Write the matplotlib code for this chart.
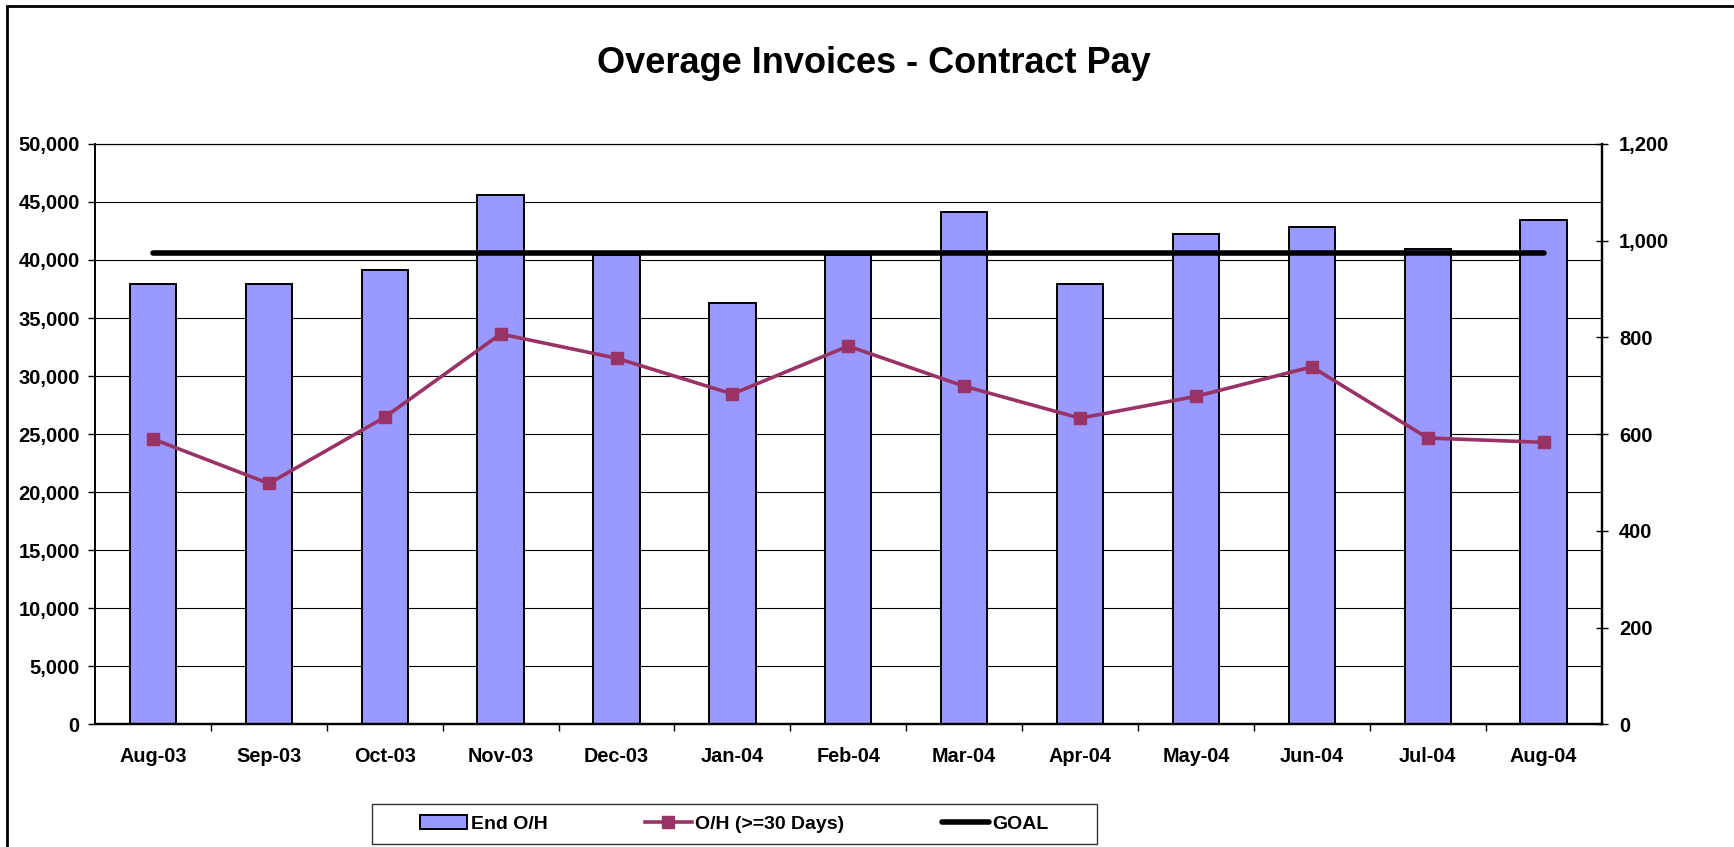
import numpy as np
import matplotlib
matplotlib.use("Agg")
import matplotlib.pyplot as plt
from matplotlib.lines import Line2D
from matplotlib.patches import Patch, Rectangle
from matplotlib.ticker import FuncFormatter, MultipleLocator

plt.rcParams['font.family'] = ['Liberation Sans', 'DejaVu Sans']
plt.rcParams['font.weight'] = 'bold'

months = ['Aug-03', 'Sep-03', 'Oct-03', 'Nov-03', 'Dec-03', 'Jan-04', 'Feb-04',
          'Mar-04', 'Apr-04', 'May-04', 'Jun-04', 'Jul-04', 'Aug-04']
end_oh = [37900, 37900, 39150, 45600, 40450, 36300, 40400,
          44100, 37950, 42250, 42800, 40900, 43400]
oh_30 = [590, 498, 635, 807, 757, 683, 782, 699, 633, 678, 739, 592, 583]
goal = [975] * 13

fig = plt.figure(figsize=(17.34, 8.47), dpi=100)
ax = fig.add_axes([0.0548, 0.1447, 0.8688, 0.6855])
ax2 = ax.twinx()

x = np.arange(len(months))
ax.bar(x, end_oh, width=0.4, color='#9999FF', edgecolor='black', linewidth=1.4, zorder=2)
ax.set_ylim(0, 50000)
ax.set_xlim(-0.5, len(months) - 0.5)
ax.yaxis.set_major_locator(MultipleLocator(5000))
ax.yaxis.set_major_formatter(FuncFormatter(lambda v, p: f'{int(v):,}'))
ax.grid(axis='y', color='black', linewidth=0.8, zorder=0)
ax.set_axisbelow(True)

ax.set_xticks(x)
ax.set_xticklabels(months)
ax.set_xticks(x[:-1] + 0.5, minor=True)
ax.tick_params(axis='x', which='major', length=0, pad=16, labelsize=14.3)
ax.tick_params(axis='x', which='minor', length=5, width=1, direction='out')
ax.tick_params(axis='y', length=5, width=1, direction='out', pad=6, labelsize=14.5)

ax2.plot(x, goal, color='black', linewidth=4, solid_capstyle='round', zorder=3)
ax2.plot(x, oh_30, color='#993366', linewidth=2.6, marker='s', markersize=8, zorder=4)
ax2.set_ylim(0, 1200)
ax2.yaxis.set_major_locator(MultipleLocator(200))
ax2.yaxis.set_major_formatter(FuncFormatter(lambda v, p: f'{int(v):,}'))
ax2.tick_params(axis='y', length=9, width=1, direction='inout', pad=8, labelsize=14.5)

for a in (ax, ax2):
    a.spines['left'].set_linewidth(1.3)
    a.spines['bottom'].set_linewidth(1.6)
    a.spines['right'].set_linewidth(1.6)
    a.spines['top'].set_linewidth(0.8)

fig.text(0.504, 0.9256, 'Overage Invoices - Contract Pay', ha='center', va='center',
         fontsize=26, fontweight='bold')

handles = [Patch(facecolor='#9999FF', edgecolor='black', linewidth=1.4),
           Line2D([], [], color='#993366', linewidth=2.6, marker='s', markersize=8),
           Line2D([], [], color='black', linewidth=4, solid_capstyle='round')]
fig.legend(handles, ['End O/H', 'O/H (>=30 Days)', 'GOAL'], ncol=3, frameon=False,
           loc='center', bbox_to_anchor=(0.4236, 0.0272), fontsize=14,
           handlelength=2.4, handletextpad=0.2, columnspacing=5.0)
fig.patches.append(Rectangle((0.2145, 0.0035), 0.4181, 0.0473, transform=fig.transFigure,
                             fill=False, edgecolor='#333333', linewidth=1.0))

# outer chart border (runs off the right and bottom edge)
fig.patches.append(Rectangle((0.004, -0.05), 1.1, 1.043, transform=fig.transFigure,
                             fill=False, edgecolor='black', linewidth=2.0))

fig.savefig('out.png', dpi=100)
